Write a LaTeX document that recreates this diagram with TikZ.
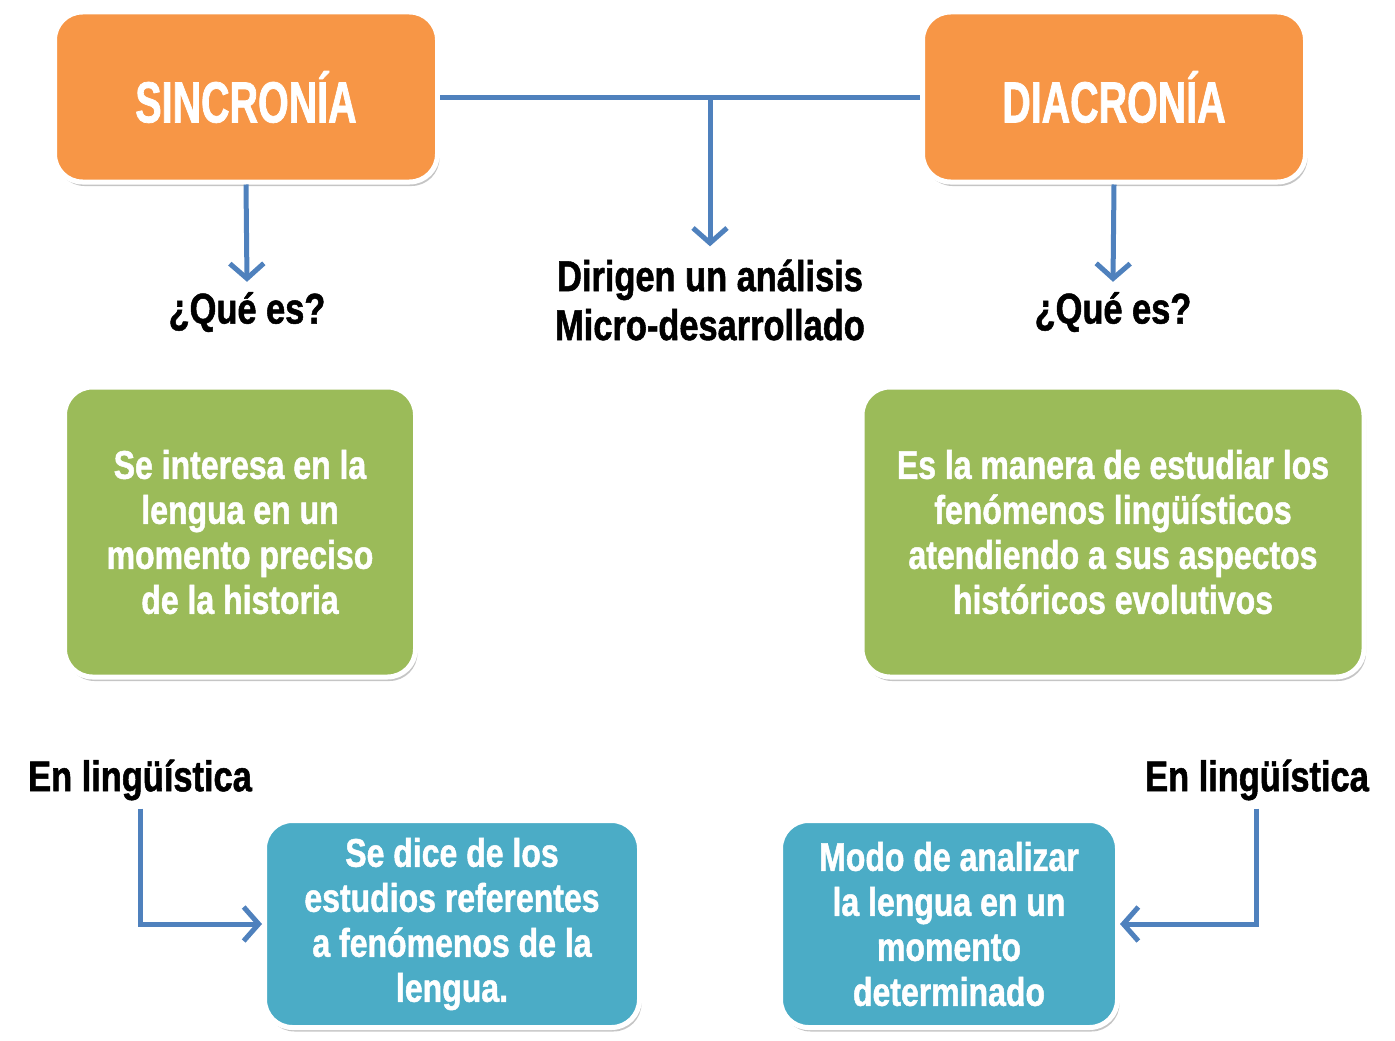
\documentclass[tikz,border=0pt]{standalone}
\usepackage{fontspec}
\setmainfont{Liberation Sans}[FakeStretch=0.8,FakeBold=1.2]
\newfontfamily\fuentetitulo{Liberation Sans}[FakeStretch=0.68,FakeBold=1.2]
\usetikzlibrary{arrows.meta,shadows}

\definecolor{naranja}{HTML}{F79646}
\definecolor{verde}{HTML}{9BBB59}
\definecolor{celeste}{HTML}{4BACC6}
\definecolor{flecha}{HTML}{4F81BD}

\tikzset{
  caja/.style={rounded corners=28pt,draw=white,line width=5pt,
    drop shadow={shadow xshift=2pt,shadow yshift=-4pt,opacity=0.5,fill=black!45},
    text=white,align=center,inner sep=0pt},
  titulo/.style={font=\fuentetitulo\bfseries\fontsize{58}{60}\selectfont},
  cuerpo/.style={font=\bfseries\fontsize{40}{45}\selectfont},
  rotulo/.style={font=\bfseries\fontsize{43}{49}\selectfont,align=center,inner sep=0pt},
  conector/.style={flecha,line width=5pt,-{Straight Barb[length=15pt,width=34pt]}}
}

\begin{document}
\begin{tikzpicture}[x=1pt,y=-1pt]
  \useasboundingbox (0,0) rectangle (1395,1041);

  % cajas superiores
  \node[caja,titulo,fill=naranja,minimum width=383pt,minimum height=170pt] (sinc) at (246,97) {SINCRONÍA};
  \node[caja,titulo,fill=naranja,minimum width=383pt,minimum height=170pt] (diac) at (1114,97) {DIACRONÍA};

  \node[rotulo] (queL) at (247,312) {¿Qué es?};
  \node[rotulo] (queR) at (1113,312) {¿Qué es?};
  \node[rotulo] (dirig) at (710,300) {Dirigen un análisis\\Micro-desarrollado};

  % cajas verdes
  \node[caja,cuerpo,fill=verde,minimum width=351pt,minimum height=290pt] (defL) at (240,532)
    {Se interesa en la\\lengua en un\\momento preciso\\de la historia};
  \node[caja,cuerpo,fill=verde,minimum width=502pt,minimum height=290pt] (defR) at (1113,532)
    {Es la manera de estudiar los\\fenómenos lingüísticos\\atendiendo a sus aspectos\\históricos evolutivos};

  \node[rotulo,anchor=west] (linL) at (28,780) {En lingüística};
  \node[rotulo,anchor=east] (linR) at (1369,780) {En lingüística};

  % cajas celestes
  \node[caja,cuerpo,fill=celeste,minimum width=375pt,minimum height=207pt] (ejeL) at (452,924)
    {Se dice de los\\estudios referentes\\a fenómenos de la\\lengua.};
  \node[caja,cuerpo,fill=celeste,minimum width=337pt,minimum height=207pt] (ejeR) at (949,924)
    {Modo de analizar\\la lengua en un\\momento\\determinado};

  % conectores
  \coordinate (cruce) at (710,96);
  \draw[flecha,line width=5pt] (sinc.east) -- (diac.west);
  \draw[conector] (cruce) -- ([yshift=13pt]dirig.north);
  \draw[conector] (sinc.south) -- ([yshift=10pt]queL.north);
  \draw[conector] (diac.south) -- ([yshift=10pt]queR.north);
  \draw[conector] ([yshift=-8pt]linL.south) |- (ejeL.west);
  \draw[conector] ([yshift=-8pt]linR.south) |- (ejeR.east);
\end{tikzpicture}
\end{document}
